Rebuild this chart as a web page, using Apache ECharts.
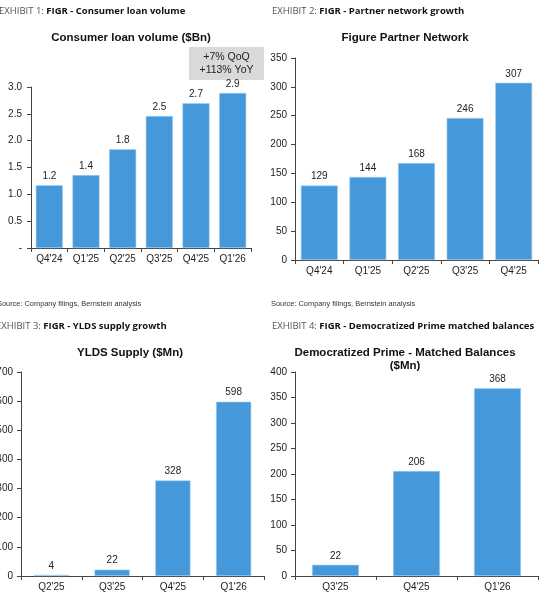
<!DOCTYPE html>
<html><head><meta charset="utf-8">
<script src="https://cdn.jsdelivr.net/npm/echarts@6/dist/echarts.min.js"></script>
<style>html,body{margin:0;padding:0;background:#fff}#c{width:560px;height:600px}</style>
</head><body><div id="c"></div>
<script>
// ---- data ----
const loanCats = ["Q4'24","Q1'25","Q2'25","Q3'25","Q4'25","Q1'26"];
const loanVals = [1.17, 1.36, 1.84, 2.46, 2.70, 2.89];
const partnerCats = ["Q4'24","Q1'25","Q2'25","Q3'25","Q4'25"];
const partnerVals = [129, 144, 168, 246, 307];
const yldsCats = ["Q2'25","Q3'25","Q4'25","Q1'26"];
const yldsVals = [4, 22, 328, 598];
const primeCats = ["Q3'25","Q4'25","Q1'26"];
const primeVals = [22, 206, 368];
const axisMax = [3.0, 350, 700, 400];
const axisStep = [0.5, 50, 100, 50];
const headers = [
  ["EXHIBIT 1: ", "FIGR - Consumer loan volume"],
  ["EXHIBIT 2: ", "FIGR - Partner network growth"],
  ["EXHIBIT 3: ", "FIGR - YLDS supply growth"],
  ["EXHIBIT 4: ", "FIGR - Democratized Prime matched balances"]
];
const chartTitles = ["Consumer loan volume ($Bn)", "Figure Partner Network", "YLDS Supply ($Mn)", "Democratized Prime - Matched Balances\n($Mn)"];
const sourceText = "Source: Company filings, Bernstein analysis";
const noteText = "+7% QoQ\n+113% YoY";

// ---- layout ----
const grids = [
  {left: 31, top: 87, width: 220, height: 161},
  {left: 295, top: 58, width: 243, height: 202},
  {left: 21, top: 372, width: 243, height: 204},
  {left: 295, top: 372, width: 243, height: 204}
].map(g => Object.assign(g, {containLabel: false, outerBoundsMode: 'none'}));
const cats = [loanCats, partnerCats, yldsCats, primeCats];
const vals = [loanVals, partnerVals, yldsVals, primeVals];
const barW = ['74%', '76%', '58%', '58%'];
const yMargin = [9, 8, 8, 8];
const BLUE = '#4598d9';
const AX = '#444';
const FONT = '"Liberation Sans", Arial, sans-serif';

const chart = echarts.init(document.getElementById('c'));
const xAxis = [], yAxis = [], series = [];
for (let i = 0; i < 4; i++) {
  xAxis.push({
    type: 'category', gridIndex: i, data: cats[i],
    axisLine: {lineStyle: {color: AX, width: 1}},
    axisTick: {show: true, length: 4, lineStyle: {color: AX}},
    axisLabel: {color: '#222', fontSize: 10, fontFamily: FONT, margin: 6}
  });
  yAxis.push({
    type: 'value', gridIndex: i, min: 0, max: axisMax[i], interval: axisStep[i],
    splitLine: {show: false},
    axisLine: {show: true, lineStyle: {color: AX, width: 1}},
    axisTick: {show: true, length: 4, lineStyle: {color: AX}},
    axisLabel: {color: '#222', fontSize: 10, fontFamily: FONT, margin: yMargin[i],
      formatter: i === 0 ? (v => v === 0 ? '-' : v.toFixed(1)) : (v => String(v))}
  });
  series.push({
    type: 'bar', xAxisIndex: i, yAxisIndex: i, data: vals[i], barWidth: barW[i],
    itemStyle: {color: BLUE, borderColor: '#a9d0ee', borderWidth: 0.6},
    label: {show: true, position: 'top', distance: 4, color: '#222', fontSize: 10, fontFamily: FONT,
      formatter: i === 0 ? (p => p.value.toFixed(1)) : (p => String(p.value))},
    silent: true, animation: false
  });
}

const headerPos = [[-1, 11], [272, 11], [-4, 326], [272, 326]];
const titlePos = [[131, 38], [405, 38], [130, 353], [405, 359]];
const sourcePos = [[-3, 304], [271, 304]];
const graphic = [];
headers.forEach((h, i) => {
  graphic.push({type: 'text', x: headerPos[i][0], y: headerPos[i][1], silent: true,
    style: {text: '{a|' + h[0] + '}{b|' + h[1] + '}', textVerticalAlign: 'middle',
      rich: {a: {fontSize: 9.5, fontFamily: '"Open Sans", sans-serif', fill: '#555'},
             b: {fontSize: 9.5, fontWeight: 'bold', fontFamily: '"Open Sans", sans-serif', fill: '#111'}}}});
});
chartTitles.forEach((t, i) => {
  graphic.push({type: 'text', x: titlePos[i][0], y: titlePos[i][1], silent: true,
    style: {text: t, textAlign: 'center', textVerticalAlign: 'middle', fontSize: 11.5, fontWeight: 'bold',
      fontFamily: FONT, fill: '#111', lineHeight: 13}});
});
sourcePos.forEach(p => {
  graphic.push({type: 'text', x: p[0], y: p[1], silent: true,
    style: {text: sourceText, textVerticalAlign: 'middle', fontSize: 7.4, fontFamily: FONT, fill: '#333'}});
});
graphic.push({type: 'rect', shape: {x: 189, y: 47, width: 75, height: 33}, silent: true,
  style: {fill: '#d9d9d9'}});
graphic.push({type: 'text', x: 226.5, y: 63.5, silent: true,
  style: {text: noteText, textAlign: 'center', textVerticalAlign: 'middle', fontSize: 10.5,
    fontFamily: FONT, fill: '#222', lineHeight: 13}});

chart.setOption({
  animation: false,
  grid: grids,
  xAxis, yAxis, series, graphic
});
</script></body></html>
